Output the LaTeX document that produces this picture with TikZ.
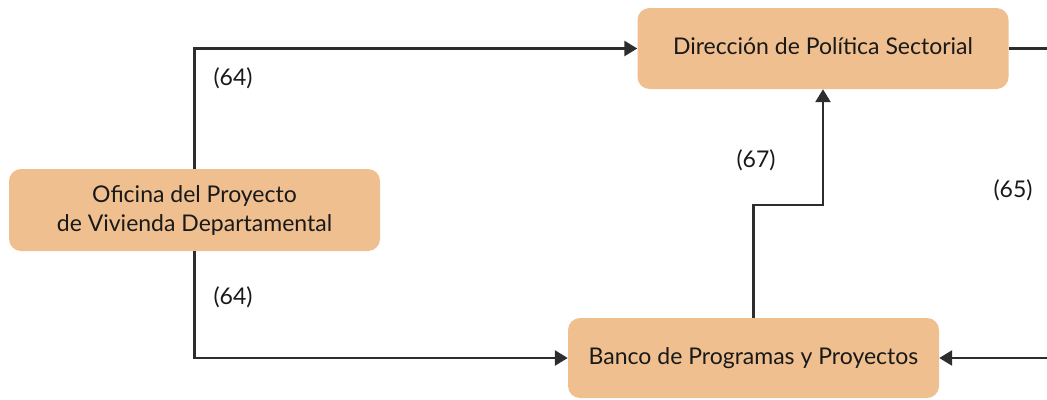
\documentclass[tikz,border=0pt]{standalone}
\usepackage{fontspec}
\setmainfont{Lato}
\usetikzlibrary{arrows.meta}
\definecolor{boxfill}{RGB}{239,191,143}
\definecolor{linecol}{RGB}{45,45,45}
\tikzset{
  box/.style={draw=none, fill=boxfill, rounded corners=12pt, minimum width=371pt,
    align=center, inner sep=0pt, font=\fontsize{23}{29}\selectfont, text=black!90},
  conn/.style={draw=linecol, line width=2.6pt, -{Triangle[length=13pt,width=15pt]}},
  plain/.style={draw=linecol, line width=2.6pt},
  lbl/.style={font=\fontsize{23}{27}\selectfont, inner sep=0pt, text=black!90}
}
\begin{document}
\begin{tikzpicture}[x=1pt,y=-1pt]
\useasboundingbox (0,0) rectangle (1047,399);
\node[box, minimum height=81pt] (dir) at (823,48.5) {\raisebox{4pt}{Dirección de Política Sectorial}};
\node[box, minimum height=82pt] (ofi) at (194.5,210) {Oficina del Proyecto\\de Vivienda Departamental};
\node[box, minimum height=80pt] (ban) at (753.5,358) {\raisebox{3pt}{Banco de Programas y Proyectos}};
\coordinate (r1) at (1047,48.5);
\coordinate (r2) at (1047,358);
\draw[conn] (ofi.north) |- (dir.west);
\draw[conn] (ofi.south) |- (ban.west);
\draw[conn] (ban.north) -- ++(0,-113) -| (dir.south);
\draw[plain] (dir.east) -- (r1);
\draw[conn] (r2) -- (ban.east);
\node[lbl] (l64a) at (233,78) {(64)};
\node[lbl] (l64b) at (233,297) {(64)};
\node[lbl] (l67) at (756,160) {(67)};
\node[lbl] (l65) at (1013,190) {(65)};
\end{tikzpicture}
\end{document}
